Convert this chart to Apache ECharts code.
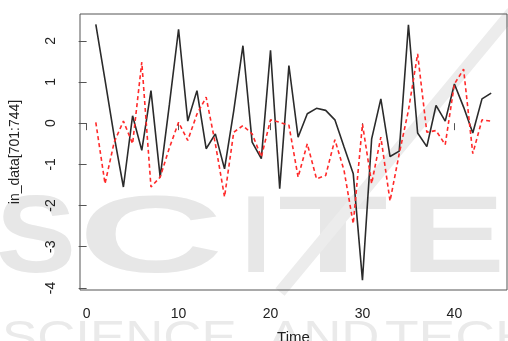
<!DOCTYPE html>
<html>
<head>
<meta charset="utf-8">
<script src="https://cdn.jsdelivr.net/npm/echarts@6/dist/echarts.min.js"></script>
<style>
  html, body { margin: 0; padding: 0; background: #fff; }
  #chart { width: 508px; height: 341px; }
</style>
</head>
<body>
<div id="chart"></div>
<script>
  // time index 1..44
  const time = [1,2,3,4,5,6,7,8,9,10,11,12,13,14,15,16,17,18,19,20,21,22,
                23,24,25,26,27,28,29,30,31,32,33,34,35,36,37,38,39,40,41,42,43,44];
  // black solid line (in_data[701:744])
  const actual = [2.40,1.05,-0.32,-1.55,0.18,-0.66,0.79,-1.31,0.45,2.28,0.05,0.79,
                  -0.62,-0.26,-1.11,0.30,1.88,-0.46,-0.86,1.77,-1.59,1.40,-0.34,0.23,
                  0.36,0.31,0.08,-0.58,-1.23,-3.81,-0.38,0.59,-0.81,-0.68,2.39,-0.24,
                  -0.57,0.43,0.05,0.95,0.39,-0.24,0.59,0.73];
  // red dashed line
  const fitted = [0.02,-1.47,-0.46,0.05,-0.50,1.48,-1.55,-1.31,-0.60,0.02,-0.42,0.22,
                  0.63,-0.50,-1.79,-0.22,-0.06,-0.26,-0.82,0.08,0.02,-0.05,-1.31,-0.50,
                  -1.35,-1.27,-0.40,-1.15,-2.44,-0.02,-1.47,-0.34,-1.89,-0.74,0.31,1.68,
                  -0.22,-0.18,-0.52,0.95,1.31,-0.74,0.08,0.05];
  const xTicks = [0,10,20,30,40];
  const yTicks = [-4,-3,-2,-1,0,1,2];

  const chart = echarts.init(document.getElementById('chart'));
  const font = 'Liberation Sans';
  const wm = '#e7e7e7';

  // background watermark (publisher logo)
  const wmLetter = (ch, x, sx) => ({
    type: 'text', z: -10, silent: true, x: x, y: 187, scaleX: sx,
    style: { text: ch, x: 0, y: 0, fill: wm, font: 'bold 109px "Liberation Sans"',
             textVerticalAlign: 'top' }
  });
  const wmWord = (w, x, sx) => ({
    type: 'text', z: -10, silent: true, x: x, y: 318, scaleX: sx,
    style: { text: w, x: 0, y: 0, fill: '#eaeaea', font: '44px "Liberation Sans"',
             textVerticalAlign: 'top' }
  });

  const option = {
    backgroundColor: '#fff',
    animation: false,
    graphic: [
      wmLetter('S', -4, 1.1), wmLetter('C', 78, 1.85), wmLetter('I', 241, 1),
      wmLetter('T', 278, 1.65), wmLetter('E', 400, 1.45),
      { type: 'line', z: -10, silent: true,
        shape: { x1: 512, y1: 12, x2: 280, y2: 292 },
        style: { stroke: '#ececec', lineWidth: 12 } },
      wmWord('SCIENCE', 2, 1.2), wmWord('AND', 268, 1.2), wmWord('TECH', 385, 1.25)
    ],
    grid: {
      left: 80, top: 14, right: 1, bottom: 51,
      outerBoundsMode: 'none',
      show: true, borderColor: '#555', borderWidth: 1, backgroundColor: 'transparent'
    },
    xAxis: {
      type: 'value', min: -0.72, max: 45.72,
      name: 'Time', nameLocation: 'middle', nameGap: 40,
      nameTextStyle: { fontFamily: font, fontSize: 15, color: '#222' },
      axisLine: { show: false },
      splitLine: { show: false },
      axisTick: { show: true, inside: false, length: 7, customValues: xTicks,
                  lineStyle: { color: '#555' } },
      axisLabel: { customValues: xTicks, margin: 17, fontFamily: font, fontSize: 14, color: '#222' }
    },
    yAxis: {
      type: 'value', min: -4.05, max: 2.65,
      name: 'in_data[701:744]', nameLocation: 'middle', nameGap: 58, nameRotate: 90,
      nameTextStyle: { fontFamily: font, fontSize: 14, color: '#222' },
      axisLine: { show: false },
      splitLine: { show: false },
      axisTick: { show: true, inside: false, length: 8, customValues: yTicks,
                  lineStyle: { color: '#555' } },
      axisLabel: { customValues: yTicks, rotate: 90, margin: 22, fontFamily: font, fontSize: 14,
                   color: '#222' }
    },
    series: [
      {
        type: 'line', symbol: 'none', z: 3,
        data: time.map((t, i) => [t, actual[i]]),
        lineStyle: { color: '#2b2b2b', width: 1.6 }
      },
      {
        type: 'line', symbol: 'none', z: 4,
        data: time.map((t, i) => [t, fitted[i]]),
        lineStyle: { color: '#ff2a2a', width: 1.6, type: [4, 3] }
      }
    ]
  };
  chart.setOption(option);
</script>
</body>
</html>
